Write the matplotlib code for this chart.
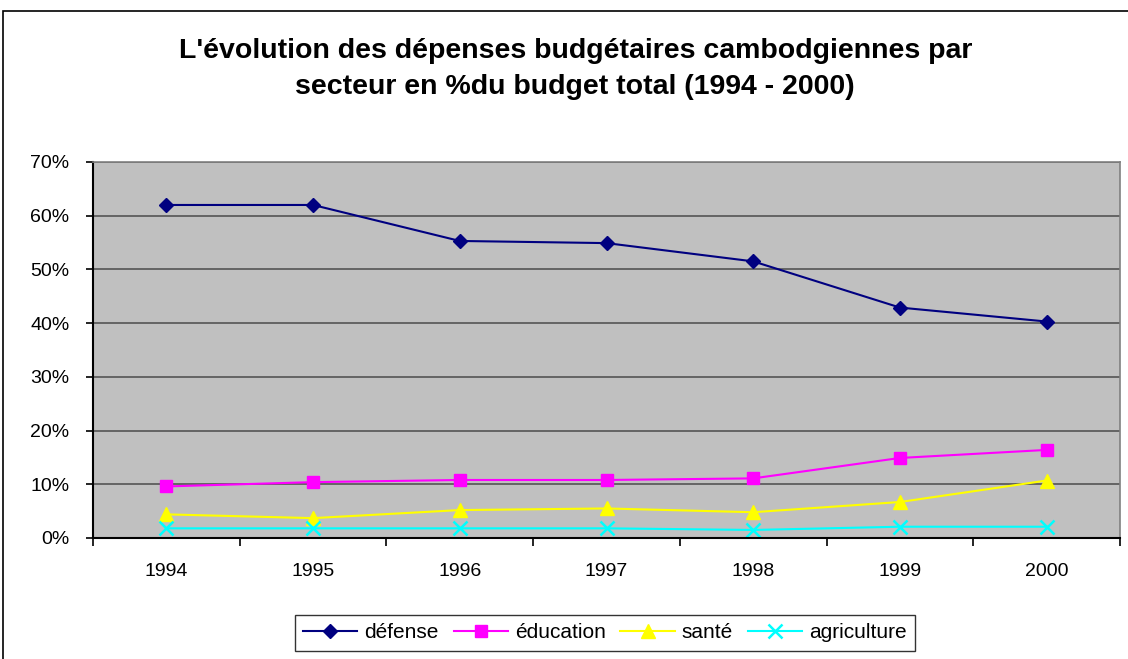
import matplotlib
matplotlib.use("Agg")
import matplotlib.pyplot as plt
from matplotlib.patches import Rectangle
from matplotlib.ticker import FixedLocator, FuncFormatter

years = ["1994", "1995", "1996", "1997", "1998", "1999", "2000"]
defense = [62.0, 62.0, 55.3, 54.9, 51.5, 42.9, 40.3]
education = [9.6, 10.4, 10.8, 10.8, 11.1, 14.9, 16.4]
sante = [4.4, 3.7, 5.2, 5.5, 4.8, 6.7, 10.7]
agriculture = [1.8, 1.8, 1.8, 1.8, 1.5, 2.1, 2.1]

plt.rcParams['font.family'] = ['Liberation Sans', 'DejaVu Sans']

W, H = 1128, 659
fig = plt.figure(figsize=(W / 100, H / 100), dpi=100)
fig.patch.set_facecolor('white')

# outer chart border
fig.patches.append(Rectangle((3 / W, -0.1), 1.1, (H - 11) / H + 0.1,
                             transform=fig.transFigure, fill=False,
                             edgecolor='black', linewidth=1.2, clip_on=False))

ax = fig.add_axes([93 / W, 1 - 538 / H, (1120 - 93) / W, (538 - 162) / H])
ax.set_facecolor('#C0C0C0')

x = list(range(len(years)))
ax.plot(x, defense, color='#000080', marker='D', markersize=7, linewidth=1.5, label='défense')
ax.plot(x, education, color='#FF00FF', marker='s', markersize=9, linewidth=1.5, label='éducation')
ax.plot(x, sante, color='#FFFF00', marker='^', markersize=10, linewidth=1.5, label='santé')
ax.plot(x, agriculture, color='#00FFFF', marker='x', markersize=10, markeredgewidth=1.8,
        linewidth=1.5, label='agriculture')

ax.set_xlim(-0.5, len(years) - 0.5)
ax.set_ylim(0, 70)
ax.set_yticks(range(0, 71, 10))
ax.yaxis.set_major_formatter(FuncFormatter(lambda v, p: f"{int(v)}%"))
ax.yaxis.grid(True, color='#555555', linewidth=1.2)
ax.set_axisbelow(True)

ax.set_xticks(x)
ax.set_xticklabels(years)
ax.xaxis.set_minor_locator(FixedLocator([i - 0.5 for i in range(len(years) + 1)]))
ax.tick_params(axis='x', which='major', length=0, pad=18, labelsize=14)
ax.tick_params(axis='x', which='minor', length=6, width=1.2, direction='out')
ax.tick_params(axis='y', which='major', length=5, width=1.2, labelsize=14, pad=12)

for s in ['left', 'bottom']:
    ax.spines[s].set_color('black')
    ax.spines[s].set_linewidth(1.5)
for s in ['top', 'right']:
    ax.spines[s].set_color('#808080')
    ax.spines[s].set_linewidth(1.2)

fig.text(0.510, 1 - 69 / H,
         "L'évolution des dépenses budgétaires cambodgiennes par\nsecteur en %du budget total (1994 - 2000)",
         ha='center', va='center', fontsize=20.5, fontweight='bold', linespacing=1.45)

leg = fig.legend(loc='center', bbox_to_anchor=(605 / W, 1 - 633 / H), ncol=4,
                 fontsize=15, frameon=True, fancybox=False, edgecolor='black',
                 handlelength=2.6, handletextpad=0.35, columnspacing=0.7,
                 borderpad=0.4)
leg.get_frame().set_linewidth(1.0)

fig.savefig('out.png', dpi=100, facecolor='white')
